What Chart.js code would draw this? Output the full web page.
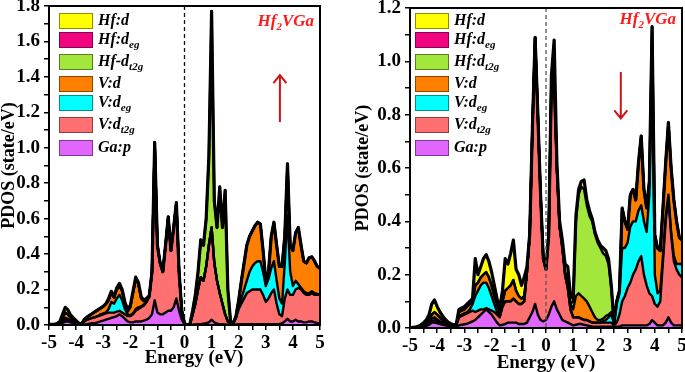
<!DOCTYPE html>
<html>
<head>
<meta charset="utf-8">
<script src="https://cdn.jsdelivr.net/npm/chart.js@4.4.0/dist/chart.umd.min.js"></script>
<style>
html, body { margin: 0; padding: 0; background: #fff; }
#wrap { position: relative; width: 685px; height: 372px; overflow: hidden; }
.panel { position: absolute; top: 0; height: 372px; }
#leftBox { left: 0; width: 340px; }
#rightBox { left: 340px; width: 345px; }
</style>
</head>
<body>
<div id="wrap">
  <div class="panel" id="leftBox"><canvas id="chartUp"></canvas></div>
  <div class="panel" id="rightBox"><canvas id="chartDown"></canvas></div>
</div>
<script>
// energy grid (eV)
var energy = [
  -5, -4.9, -4.8, -4.7, -4.6, -4.5, -4.4, -4.3, -4.2, -4.1,
  -4, -3.9, -3.8, -3.7, -3.6, -3.5, -3.4, -3.3, -3.2, -3.1,
  -3, -2.9, -2.8, -2.7, -2.6, -2.5, -2.4, -2.3, -2.2, -2.1,
  -2, -1.9, -1.8, -1.7, -1.6, -1.5, -1.4, -1.3, -1.2, -1.1,
  -1, -0.9, -0.8, -0.7, -0.6, -0.5, -0.4, -0.3, -0.2, -0.1,
  0, 0.1, 0.2, 0.3, 0.4, 0.5, 0.6, 0.7, 0.8, 0.9,
  1, 1.1, 1.2, 1.3, 1.4, 1.5, 1.6, 1.7, 1.8, 1.9,
  2, 2.1, 2.2, 2.3, 2.4, 2.5, 2.6, 2.7, 2.8, 2.9,
  3, 3.1, 3.2, 3.3, 3.4, 3.5, 3.6, 3.7, 3.8, 3.9,
  4, 4.1, 4.2, 4.3, 4.4, 4.5, 4.6, 4.7, 4.8, 4.9,
  5
];
var xTicks = [-5, -4, -3, -2, -1, 0, 1, 2, 3, 4, 5];

// spin up panel: top edge of each coloured band (state/eV)
var upGaP = [
  0, 0, 0, .002, .005, .01, .02, .02, .015, .01,
  .005, .003, .002, .003, .005, .008, .01, .01, .015, .02,
  .025, .03, .035, .04, .045, .05, .06, .05, .035, .02,
  .015, .015, .02, .02, .02, .025, .03, .04, .06, .14,
  .07, .06, .06, .07, .08, .08, .1, .15, .08, .03,
  .005, 0, 0, .002, .003, .004, .005, .008, .01, .015,
  .03, .015, .008, .005, .004, .003, .002, .001, .002, .003,
  .004, .005, .005, .005, .005, .005, .005, .005, .005, .005,
  .005, .005, .005, .005, .005, .005, .01, .02, .035, .02,
  .02, .03, .02, .02, .015, .015, .02, .02, .015, .01,
  .01
];
var upVT2g = [
  0, 0, 0, .004, .008, .02, .03, .03, .02, .015,
  .01, .005, .004, .02, .03, .035, .04, .045, .05, .055,
  .06, .065, .07, .07, .07, .075, .08, .07, .06, .05,
  .05, .06, .08, .09, .1, .11, .13, .16, .3, 1.03,
  .45, .35, .3, .45, .61, .42, .55, .69, .3, .08,
  .01, 0, .005, .06, .12, .2, .27, .25, .33, .45,
  .55, .35, .25, .18, .12, .06, .02, .01, .01, .04,
  .09, .12, .15, .18, .19, .2, .2, .2, .2, .17,
  .13, .15, .18, .2, .12, .06, .05, .15, .2, .17,
  .17, .2, .21, .2, .18, .17, .17, .18, .17, .17,
  .17
];
var upVEg = [
  0, 0, 0, .005, .01, .025, .04, .035, .025, .02,
  .012, .006, .004, .02, .03, .035, .04, .045, .05, .06,
  .065, .07, .09, .13, .12, .15, .17, .14, .09, .06,
  .055, .065, .09, .1, .105, .115, .13, .16, .3, 1.03,
  .45, .35, .3, .45, .61, .42, .55, .69, .3, .08,
  .01, 0, .005, .06, .12, .2, .27, .25, .33, .45,
  .55, .35, .25, .18, .12, .06, .02, .01, .012, .042,
  .1, .15, .2, .25, .3, .33, .35, .36, .36, .3,
  .22, .26, .32, .36, .25, .15, .12, .35, .62, .3,
  .22, .25, .23, .21, .19, .18, .18, .19, .18, .175,
  .17
];
var upVD = [
  0, 0, 0, .006, .015, .04, .07, .06, .04, .03,
  .02, .008, .005, .03, .045, .055, .065, .075, .085, .095,
  .105, .12, .14, .18, .155, .2, .22, .19, .12, .075,
  .1, .18, .26, .23, .15, .135, .145, .16, .3, 1.03,
  .45, .35, .3, .45, .61, .42, .55, .69, .3, .08,
  .01, 0, .005, .06, .12, .2, .27, .25, .33, .45,
  .55, .35, .25, .18, .12, .06, .02, .01, .012, .05,
  .14, .25, .35, .45, .5, .53, .56, .58, .57, .42,
  .25, .3, .5, .58, .45, .33, .33, .5, .91, .45,
  .42, .52, .55, .45, .36, .35, .38, .385, .36, .33,
  .32
];
var upHfT2g = [
  0, 0, 0, .006, .015, .04, .07, .06, .04, .03,
  .02, .008, .005, .03, .045, .055, .065, .075, .085, .095,
  .105, .12, .14, .18, .155, .2, .22, .19, .12, .075,
  .1, .18, .26, .23, .15, .135, .145, .16, .3, 1.03,
  .45, .35, .3, .45, .61, .42, .55, .69, .3, .08,
  .01, 0, .005, .08, .17, .3, .48, .45, .6, .95,
  1.77, .7, .55, .78, .55, .76, .2, .02, .012, .05,
  .14, .25, .35, .45, .5, .53, .56, .58, .57, .42,
  .25, .3, .5, .58, .45, .33, .33, .5, .91, .45,
  .42, .52, .55, .45, .36, .35, .38, .385, .36, .33,
  .32
];
var upHfD = [
  .002, .003, .004, .008, .02, .06, .1, .085, .055, .04,
  .025, .01, .006, .03, .045, .055, .065, .075, .085, .095,
  .105, .12, .15, .19, .16, .21, .235, .2, .13, .09,
  .11, .19, .27, .24, .16, .14, .15, .165, .3, 1.03,
  .45, .35, .3, .45, .61, .42, .55, .69, .3, .08,
  .01, 0, .005, .08, .17, .3, .48, .45, .6, .95,
  1.77, .7, .55, .78, .55, .76, .2, .02, .012, .05,
  .14, .25, .35, .45, .5, .53, .56, .58, .57, .42,
  .25, .3, .5, .58, .45, .33, .33, .5, .91, .45,
  .42, .52, .55, .45, .36, .35, .38, .385, .36, .33,
  .32
];

// spin down panel
var dnGaP = [
  0, 0, 0, .001, .003, .005, .008, .012, .02, .02,
  .018, .015, .012, .01, .008, .006, .005, .006, .01, .012,
  .014, .016, .02, .025, .03, .04, .05, .06, .07, .06,
  .05, .035, .02, .01, .012, .015, .02, .02, .02, .02,
  .015, .015, .015, .02, .04, .06, .09, .05, .03, .025,
  .03, .05, .08, .1, .07, .05, .03, .025, .02, .015,
  .01, .012, .015, .015, .012, .01, .008, .006, .005, .005,
  .005, .005, .005, .005, .005, .005, .005, .005, .01, .01,
  .01, .01, .01, .01, .01, .01, .01, .01, .015, .03,
  .02, .01, .01, .01, .02, .04, .02, .01, .01, .01,
  .01
];
var dnVT2g = [
  0, 0, 0, .002, .004, .007, .01, .016, .025, .03,
  .025, .02, .015, .012, .01, .008, .006, .008, .04, .045,
  .05, .055, .06, .065, .06, .065, .07, .07, .075, .07,
  .065, .06, .05, .04, .08, .1, .1, .1, .11, .1,
  .09, .09, .1, .21, .35, .75, 1.09, .8, .5, .26,
  .22, .35, .9, .88, .6, .38, .3, .2, .15, .07,
  .04, .04, .04, .035, .03, .03, .025, .02, .02, .02,
  .02, .02, .02, .02, .02, .01, .02, .05, .1, .12,
  .15, .17, .2, .22, .25, .27, .2, .16, .13, .12,
  .09, .08, .1, .25, .4, .49, .35, .25, .22, .2,
  .19
];
var dnVEg = [
  0, 0, 0, .003, .005, .009, .013, .02, .035, .04,
  .032, .025, .02, .015, .012, .01, .008, .01, .045, .05,
  .055, .06, .07, .09, .12, .14, .16, .17, .17, .15,
  .12, .09, .06, .045, .08, .1, .1, .1, .11, .1,
  .09, .09, .1, .21, .35, .75, 1.09, .8, .5, .26,
  .22, .35, .92, .93, .6, .38, .3, .2, .15, .07,
  .04, .04, .04, .035, .03, .03, .025, .02, .02, .02,
  .02, .025, .03, .04, .05, .02, .09, .13, .3, .3,
  .32, .38, .4, .4, .44, .46, .4, .36, .5, 1.05,
  .2, .13, .14, .27, .42, .5, .36, .27, .24, .24,
  .24
];
var dnVD = [
  0, 0, 0, .004, .008, .014, .02, .03, .05, .06,
  .05, .04, .03, .022, .016, .012, .01, .012, .06, .065,
  .07, .08, .09, .1, .16, .17, .19, .2, .21, .19,
  .16, .12, .09, .06, .1, .14, .15, .16, .18, .14,
  .12, .11, .12, .21, .35, .75, 1.09, .8, .5, .26,
  .22, .35, .95, .98, .6, .38, .31, .21, .17, .09,
  .07, .12, .13, .12, .11, .1, .08, .06, .04, .03,
  .03, .035, .045, .05, .06, .02, .1, .14, .45, .4,
  .37, .5, .52, .48, .62, .72, .52, .45, .55, 1.13,
  .35, .3, .29, .45, .62, .77, .6, .48, .4, .34,
  .33
];
var dnHfT2g = [
  0, 0, 0, .004, .008, .014, .02, .03, .05, .06,
  .05, .04, .03, .022, .016, .012, .01, .012, .06, .065,
  .07, .08, .09, .1, .16, .17, .19, .2, .21, .19,
  .16, .12, .09, .06, .1, .14, .15, .16, .18, .14,
  .12, .11, .12, .21, .35, .75, 1.09, .8, .5, .26,
  .22, .35, .95, .98, .6, .38, .31, .21, .17, .09,
  .1, .4, .5, .53, .52, .46, .42, .4, .35, .32,
  .3, .28, .27, .24, .15, .02, .1, .14, .45, .4,
  .37, .5, .52, .48, .62, .72, .52, .45, .55, 1.13,
  .35, .3, .29, .45, .62, .77, .6, .48, .4, .34,
  .33
];
var dnHfD = [
  .001, .002, .003, .006, .012, .02, .03, .05, .09, .105,
  .08, .06, .045, .032, .022, .016, .012, .014, .07, .075,
  .08, .09, .1, .11, .26, .2, .23, .26, .275, .25,
  .21, .16, .11, .075, .14, .26, .24, .28, .33, .22,
  .2, .16, .19, .23, .35, .75, 1.09, .8, .5, .26,
  .22, .35, .95, 1.08, .62, .4, .33, .24, .23, .12,
  .11, .42, .52, .55, .555, .48, .44, .41, .36, .33,
  .31, .3, .29, .26, .16, .02, .1, .14, .45, .4,
  .37, .5, .52, .48, .62, .72, .52, .45, .55, 1.13,
  .35, .3, .29, .45, .62, .77, .6, .48, .4, .34,
  .33
];

var colGaP = '#E066FF', colVT2g = '#FF7070', colVEg = '#00FFFF', colVD = '#FF8000';
var colHfT2g = '#A3E63C', colHfEg = '#F0047F', colHfD = '#FFFF00';

var legendUp = [['Hf:d', ''], ['Hf:d', 'eg'], ['Hf-d', 't2g'], ['V:d', ''], ['V:d', 'eg'], ['V:d', 't2g'], ['Ga:p', '']];
var legendDown = [['Hf:d', ''], ['Hf:d', 'eg'], ['Hf:d', 't2g'], ['V:d', ''], ['V:d', 'eg'], ['V:d', 't2g'], ['Ga:p', '']];
var legendColors = [colHfD, colHfEg, colHfT2g, colVD, colVEg, colVT2g, colGaP];
var legendRowY = [21, 40, 62, 84, 103, 125, 148];

var serif = 'Liberation Serif';

var panelDecor = {
  id: 'panelDecor',
  afterDatasetsDraw: function (chart) {
    var o = chart.options.plugins.panelDecor;
    var ctx = chart.ctx, a = chart.chartArea;
    var xs = chart.scales.x, ys = chart.scales.y;
    ctx.save();
    // Fermi level
    var x0 = xs.getPixelForValue(0);
    ctx.strokeStyle = o.dashColor;
    ctx.lineWidth = 1.3;
    ctx.setLineDash([4, 3]);
    ctx.beginPath();
    ctx.moveTo(x0, a.top);
    ctx.lineTo(x0, a.bottom);
    ctx.stroke();
    ctx.setLineDash([]);
    // frame
    ctx.strokeStyle = '#000';
    ctx.lineWidth = 2;
    ctx.strokeRect(a.left, a.top, a.right - a.left, a.bottom - a.top);
    // x axis title
    ctx.fillStyle = '#000';
    ctx.textAlign = 'center';
    ctx.textBaseline = 'middle';
    ctx.font = 'bold 19px "' + serif + '"';
    ctx.fillText('Energy (eV)', xs.getPixelForValue(o.xTitleAt), o.xTitleY);
    // legend
    ctx.textAlign = 'left';
    o.legend.forEach(function (item, i) {
      var yc = legendRowY[i];
      ctx.fillStyle = legendColors[i];
      ctx.fillRect(o.boxX, yc - 8, 34, 16);
      ctx.strokeStyle = 'rgba(0,0,0,0.45)';
      ctx.lineWidth = 1;
      ctx.strokeRect(o.boxX + 0.5, yc - 7.5, 33, 15);
      ctx.fillStyle = '#000';
      ctx.font = 'italic bold 16px "' + serif + '"';
      var tx = o.boxX + 39;
      ctx.fillText(item[0], tx, yc);
      if (item[1]) {
        var w = ctx.measureText(item[0]).width;
        ctx.font = 'italic bold 11px "' + serif + '"';
        ctx.fillText(item[1], tx + w, yc + 5);
      }
    });
    // compound name
    var big = 'italic bold 17px "' + serif + '"', small = 'italic bold 11px "' + serif + '"';
    ctx.font = big;
    var w1 = ctx.measureText('Hf').width, w3 = ctx.measureText('VGa').width;
    ctx.font = small;
    var w2 = ctx.measureText('2').width;
    var sx = a.right - 6 - (w1 + w2 + w3);
    ctx.fillStyle = '#FF1A1A';
    ctx.font = big;
    ctx.fillText('Hf', sx, o.titleY);
    ctx.font = small;
    ctx.fillText('2', sx + w1, o.titleY + 5);
    ctx.font = big;
    ctx.fillText('VGa', sx + w1 + w2, o.titleY);
    // spin arrow
    var ax = xs.getPixelForValue(o.arrow[0]);
    var yTail = ys.getPixelForValue(o.arrow[1]), yTip = ys.getPixelForValue(o.arrow[2]);
    var dir = yTip < yTail ? 1 : -1;
    ctx.strokeStyle = '#CC1414';
    ctx.lineWidth = 2;
    ctx.beginPath();
    ctx.moveTo(ax, yTail);
    ctx.lineTo(ax, yTip);
    ctx.moveTo(ax - 6.5, yTip + dir * 8);
    ctx.lineTo(ax, yTip);
    ctx.lineTo(ax + 6.5, yTip + dir * 8);
    ctx.stroke();
    ctx.restore();
  }
};

function buildPanel(canvasId, yMax, series, o) {
  var datasets = series.map(function (s, i) {
    return {
      label: s[0],
      data: energy.map(function (e, k) { return { x: e, y: s[1][k] }; }),
      fill: i === 0 ? 'origin' : '-1',
      backgroundColor: s[2],
      borderColor: '#000',
      borderWidth: i === series.length - 1 ? 3.2 : 2.4,
      borderJoinStyle: 'round',
      pointRadius: 0,
      tension: 0,
      order: series.length - i
    };
  });
  var tickFont = { family: serif, size: 19, weight: 'bold' };
  return new Chart(document.getElementById(canvasId), {
    type: 'line',
    data: { datasets: datasets },
    options: {
      animation: false,
      responsive: true,
      maintainAspectRatio: false,
      events: [],
      layout: { padding: o.padding },
      plugins: {
        legend: { display: false },
        tooltip: { enabled: false },
        filler: { drawTime: 'beforeDatasetsDraw' },
        panelDecor: o
      },
      scales: {
        x: {
          type: 'linear',
          min: -5,
          max: 5,
          ticks: {
            stepSize: 0.5,
            autoSkip: false,
            maxRotation: 0,
            padding: 2,
            color: '#000',
            font: tickFont,
            callback: function (v) { return xTicks.indexOf(v) >= 0 ? String(v) : ''; }
          },
          grid: { drawOnChartArea: false, color: '#000', lineWidth: 1.5, tickLength: 5 },
          border: { color: '#000', width: 2 },
          afterFit: function (s) { s.height = o.xHeight; s.paddingLeft = 0; s.paddingRight = 0; }
        },
        y: {
          min: 0,
          max: yMax,
          ticks: {
            stepSize: 0.1,
            autoSkip: false,
            padding: 4,
            color: '#000',
            font: tickFont,
            callback: function (v) { return Math.round(v * 10) % 2 === 0 ? v.toFixed(1) : ''; }
          },
          grid: { drawOnChartArea: false, color: '#000', lineWidth: 1.5, tickLength: 5 },
          border: { color: '#000', width: 2 },
          title: { display: true, text: 'PDOS (state/eV)', color: '#000', font: { family: serif, size: 18, weight: 'bold', lineHeight: 1 }, padding: 0 },
          afterFit: function (s) { s.width = o.yWidth; s.paddingTop = 0; s.paddingBottom = 0; }
        }
      }
    },
    plugins: [panelDecor]
  });
}

buildPanel('chartUp', 1.8, [
  ['Ga:p', upGaP, colGaP],
  ['V:dt2g', upVT2g, colVT2g],
  ['V:deg', upVEg, colVEg],
  ['V:d', upVD, colVD],
  ['Hf-dt2g', upHfT2g, colHfT2g],
  ['Hf:d', upHfD, colHfD]
], {
  padding: { left: 0, right: 20, top: 6, bottom: 0 },
  yWidth: 49, xHeight: 47,
  xTitleAt: 0.35, xTitleY: 358,
  legend: legendUp, boxX: 59, titleY: 22, dashColor: '#111',
  arrow: [3.52, 1.146, 1.41]
});

buildPanel('chartDown', 1.2, [
  ['Ga:p', dnGaP, colGaP],
  ['V:dt2g', dnVT2g, colVT2g],
  ['V:deg', dnVEg, colVEg],
  ['V:d', dnVD, colVD],
  ['Hf:dt2g', dnHfT2g, colHfT2g],
  ['Hf:d', dnHfD, colHfD]
], {
  padding: { left: 14, right: 3, top: 8, bottom: 0 },
  yWidth: 56, xHeight: 44,
  xTitleAt: 0, xTitleY: 363,
  legend: legendDown, boxX: 75, titleY: 20, dashColor: '#555',
  arrow: [2.75, 0.96, 0.786]
});
</script>
</body>
</html>
